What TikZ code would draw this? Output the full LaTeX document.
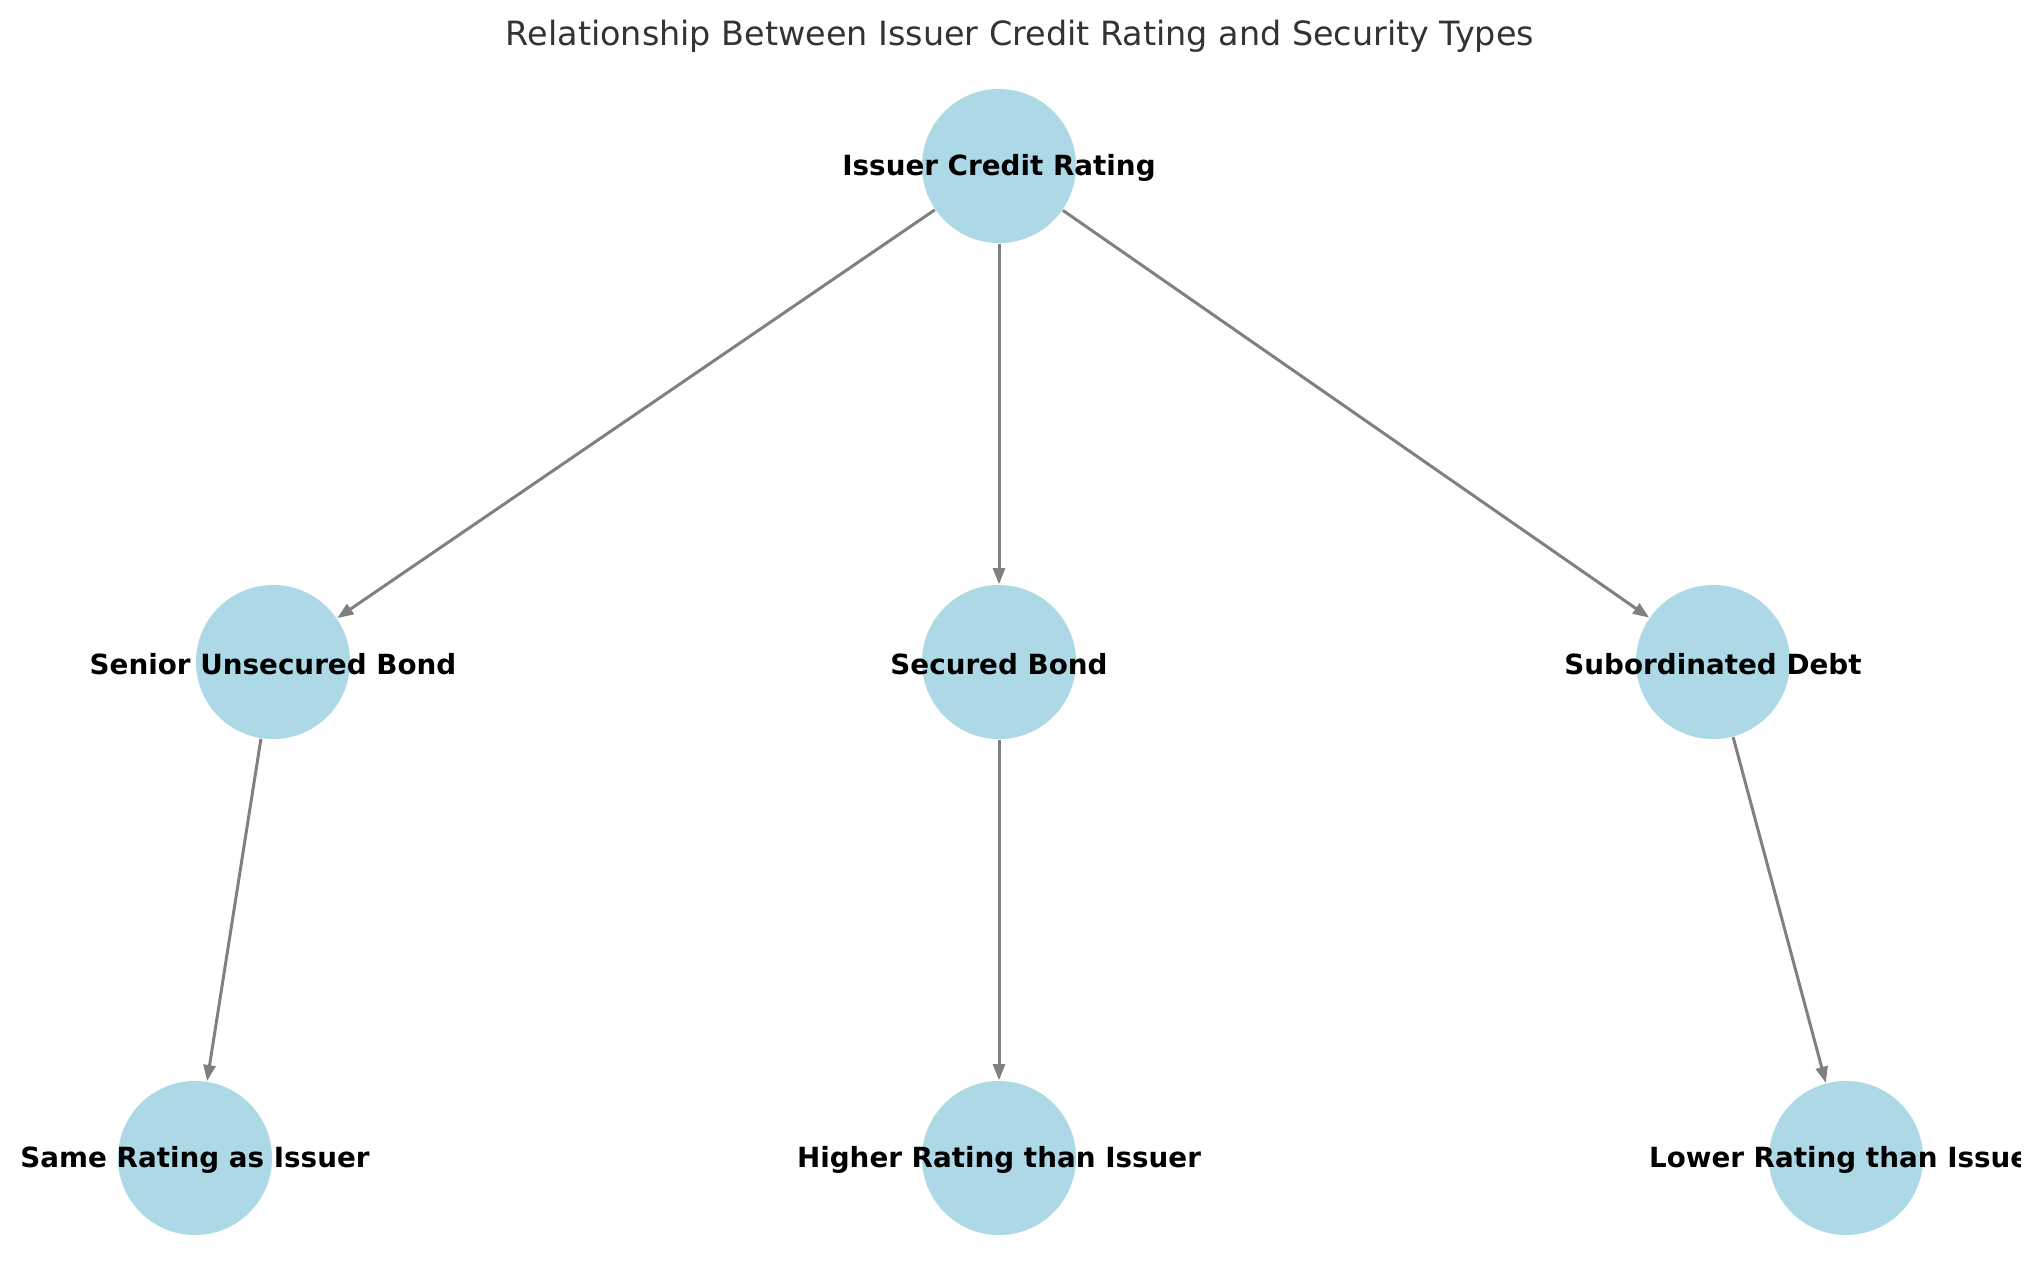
\documentclass[tikz,border=0pt]{standalone}
\usepackage{fontspec}
\setmainfont{DejaVu Sans}
\usetikzlibrary{arrows.meta}
\definecolor{nodeblue}{HTML}{ADD8E6}
\definecolor{titlegray}{HTML}{333333}
\tikzset{
  dot/.style={circle, fill=nodeblue, inner sep=0pt, minimum size=1.54cm},
  lbl/.style={font=\fontsize{7.9}{10}\selectfont\bfseries, inner sep=0pt, yshift=-0.5pt},
  edge/.style={-{Triangle[length=4.6pt,width=3.4pt]}, draw=gray, line width=0.85pt}
}
\begin{document}
\begin{tikzpicture}[x=0.01cm, y=-0.01cm]
\useasboundingbox (0,0) rectangle (2039,1282);
\node[font=\fontsize{9.5}{11}\selectfont, text=titlegray] at (1020,36) {Relationship Between Issuer Credit Rating and Security Types};
\node[dot] (issuer) at (999,166) {};
\node[dot] (senior) at (273,662) {};
\node[dot] (secured) at (999,662) {};
\node[dot] (subord) at (1713,662) {};
\node[dot] (same) at (195,1158) {};
\node[dot] (higher) at (999,1158) {};
\node[dot] (lower) at (1846,1158) {};
\draw[edge] (issuer)--(senior);
\draw[edge] (issuer)--(secured);
\draw[edge] (issuer)--(subord);
\draw[edge] (senior)--(same);
\draw[edge] (secured)--(higher);
\draw[edge] (subord)--(lower);
\node[lbl] at (issuer) {Issuer Credit Rating};
\node[lbl] at (senior) {Senior Unsecured Bond};
\node[lbl] at (secured) {Secured Bond};
\node[lbl] at (subord) {Subordinated Debt};
\node[lbl] at (same) {Same Rating as Issuer};
\node[lbl] at (higher) {Higher Rating than Issuer};
\begin{scope}
\clip (0,0) rectangle (2020,1282);
\node[lbl] at (lower) {Lower Rating than Issuer};
\end{scope}
\end{tikzpicture}
\end{document}
